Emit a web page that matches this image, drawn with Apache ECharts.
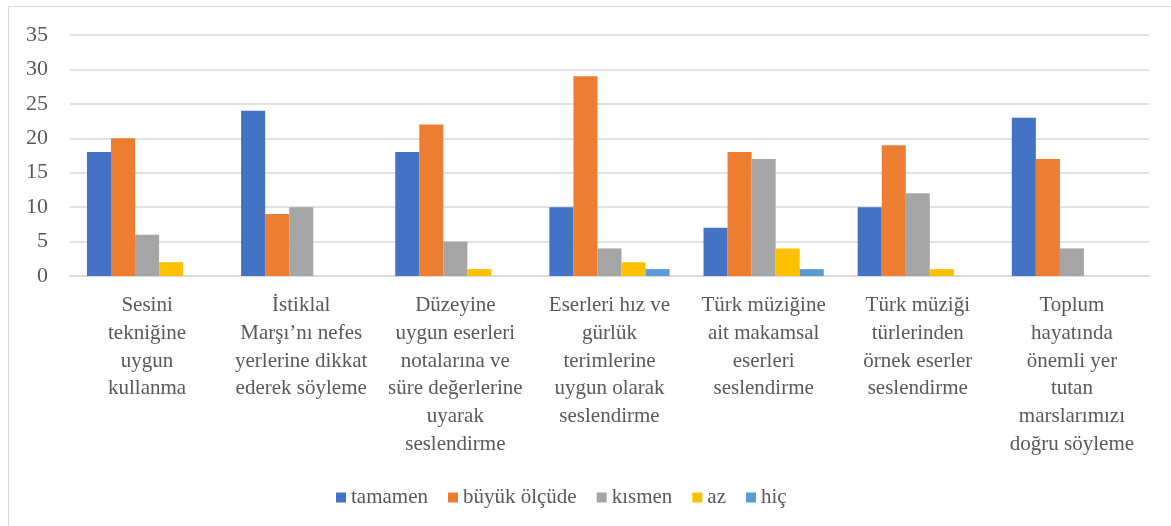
<!DOCTYPE html>
<html>
<head>
<meta charset="utf-8">
<script src="https://cdn.jsdelivr.net/npm/echarts@6/dist/echarts.min.js"></script>
<style>
  html, body { margin: 0; padding: 0; background: #fff; }
  #chart { width: 1171px; height: 526px; }
</style>
</head>
<body>
<div id="chart"></div>
<script>
const categories = [
  'Sesini\ntekniğine\nuygun\nkullanma',
  'İstiklal\nMarşı’nı nefes\nyerlerine dikkat\nederek söyleme',
  'Düzeyine\nuygun eserleri\nnotalarına ve\nsüre değerlerine\nuyarak\nseslendirme',
  'Eserleri hız ve\ngürlük\nterimlerine\nuygun olarak\nseslendirme',
  'Türk müziğine\nait makamsal\neserleri\nseslendirme',
  'Türk müziği\ntürlerinden\nörnek eserler\nseslendirme',
  'Toplum\nhayatında\nönemli yer\ntutan\nmarslarımızı\ndoğru söyleme'
]
const seriesNames = ['tamamen', 'büyük ölçüde', 'kısmen', 'az', 'hiç']
const tamamen = [18, 24, 18, 10, 7, 10, 23]
const buyukOlcude = [20, 9, 22, 29, 18, 19, 17]
const kismen = [6, 10, 5, 4, 17, 12, 4]
const az = [2, 0, 1, 2, 4, 1, 0]
const hic = [0, 0, 0, 1, 1, 0, 0]
const colors = ['#4472C4', '#ED7D31', '#A5A5A5', '#FFC000', '#5B9BD5']

const values = [tamamen, buyukOlcude, kismen, az, hic]
const font = '"Liberation Serif", "Times New Roman", serif'

const chart = echarts.init(document.getElementById('chart'))
chart.setOption({
  animation: false,
  textStyle: { fontFamily: font, color: '#595959' },
  graphic: [{
    type: 'rect',
    shape: { x: 8.5, y: 6.5, width: 1200, height: 600 },
    style: { fill: 'none', stroke: '#d9d9d9', lineWidth: 1 },
    silent: true
  }],
  grid: { left: 70, right: 22, top: 35, bottom: 250, containLabel: false },
  legend: {
    top: 482,
    left: 331,
    icon: 'rect',
    itemWidth: 10,
    itemHeight: 10,
    itemGap: 20,
    textStyle: { fontFamily: font, fontSize: 21, color: '#595959' },
    data: seriesNames
  },
  xAxis: {
    type: 'category',
    data: categories,
    axisLine: { lineStyle: { color: '#d9d9d9', width: 1.5 } },
    axisTick: { show: false },
    axisLabel: {
      interval: 0,
      margin: 16,
      fontFamily: font,
      fontSize: 21,
      lineHeight: 27.7,
      color: '#595959',
      align: 'center'
    }
  },
  yAxis: {
    type: 'value',
    min: 0,
    max: 35,
    interval: 5,
    axisLine: { show: false },
    axisTick: { show: false },
    splitLine: { lineStyle: { color: '#d9d9d9', width: 1.5 } },
    axisLabel: { margin: 22, fontFamily: font, fontSize: 22, color: '#595959' }
  },
  series: seriesNames.map((name, i) => ({
    name: name,
    type: 'bar',
    data: values[i],
    barGap: '0%',
    barCategoryGap: '22%',
    itemStyle: { color: colors[i] }
  }))
})
</script>
</body>
</html>
